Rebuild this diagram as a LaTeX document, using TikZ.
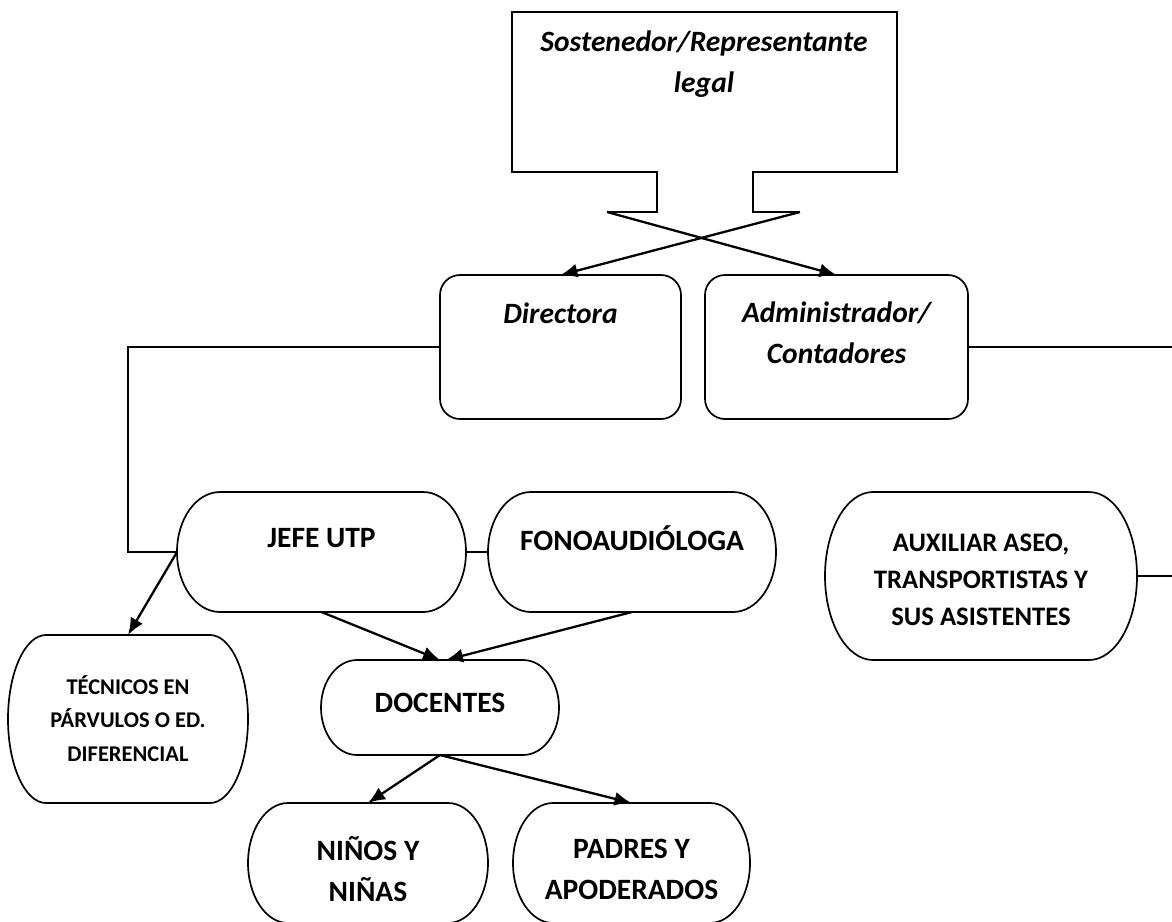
\documentclass[tikz,border=0pt]{standalone}
\usepackage{fontspec}
\setmainfont{Carlito}
\usepackage{tikz}
\usetikzlibrary{arrows.meta}
\tikzset{
    framenode/.style = {
        rectangle,
        rounded corners=20pt,
        draw=black,
        line width=1.7pt,
        inner sep=0pt,
        outer sep=0pt
    },
    pillnode/.style = {
        rectangle,
        inner sep=0pt,
        outer sep=0pt
    },
    pillline/.style = {
        draw=black,
        line width=1.7pt
    },
    labeltext/.style = {
        align=center,
        inner sep=0pt,
        font=\fontsize{29.5}{41}\selectfont\bfseries
    },
    midlabeltext/.style = {
        labeltext,
        font=\fontsize{26.7}{37}\selectfont\bfseries
    },
    smalllabeltext/.style = {
        labeltext,
        font=\fontsize{22.5}{33.5}\selectfont\bfseries
    },
    headtext/.style = {
        labeltext,
        font=\fontsize{29.5}{41}\selectfont\bfseries\itshape
    },
    link/.style = {
        line width=1.7pt
    },
    arrowlink/.style = {
        line width=2.3pt,
        -{Latex[length=17pt,width=14pt]}
    }
}
% outline with half-ellipse ends: node, x radius, y radius
\newcommand{\pilloutline}[3]{%
    \draw[pillline] ([xshift=#2]#1.north west) -- ([xshift=-#2]#1.north east)
        arc[start angle=90, end angle=-90, x radius=#2, y radius=#3]
        -- ([xshift=#2]#1.south west)
        arc[start angle=270, end angle=90, x radius=#2, y radius=#3] -- cycle;
}
\begin{document}
\begin{tikzpicture}[x=1pt, y=-1pt]
    \useasboundingbox (0,0) rectangle (1172,921);

    \coordinate (tabL) at (607,212);
    \coordinate (tabR) at (800,212);
    \draw[link] (tabL) -- (657,212) -- (657,172) -- (512,172) -- (512,12) -- (897,12)
        -- (897,172) -- (753,172) -- (753,212) -- (tabR);
    \node[headtext] (sosttext) at (704,64) {Sostenedor/Representante\\legal};

    \node[framenode, minimum width=241pt, minimum height=144pt] (dir) at (560.5,347) {};
    \node[headtext] (dirtext) at (560.5,313) {Directora};
    \node[framenode, minimum width=263pt, minimum height=144pt] (adm) at (836.5,347) {};
    \node[headtext] (admtext) at (836.5,333) {Administrador/\\Contadores};

    \node[pillnode, minimum width=289pt, minimum height=120pt] (jefe) at (321.5,552) {};
    \pilloutline{jefe}{43pt}{60pt}
    \node[labeltext] (jefetext) at (321.5,538) {JEFE UTP};
    \node[pillnode, minimum width=288pt, minimum height=120pt] (fono) at (632,552) {};
    \pilloutline{fono}{43pt}{60pt}
    \node[labeltext] (fonotext) at (632,538) {FONOAUDIÓLOGA};
    \node[pillnode, minimum width=312pt, minimum height=168pt] (aux) at (981,576) {};
    \pilloutline{aux}{48pt}{84pt}
    \node[midlabeltext] (auxtext) at (981,580) {AUXILIAR ASEO,\\TRANSPORTISTAS Y\\SUS ASISTENTES};

    \node[pillnode, minimum width=240pt, minimum height=168pt] (tec) at (128,719) {};
    \pilloutline{tec}{38pt}{84pt}
    \node[smalllabeltext] (tectext) at (128,718.5) {TÉCNICOS EN\\PÁRVULOS O ED.\\DIFERENCIAL};
    \node[pillnode, minimum width=238pt, minimum height=95pt] (doc) at (440,707.5) {};
    \pilloutline{doc}{36pt}{47.5pt}
    \node[labeltext] (doctext) at (440,703) {DOCENTES};

    \node[pillnode, minimum width=240pt, minimum height=120pt] (nin) at (368,863) {};
    \pilloutline{nin}{40pt}{60pt}
    \node[labeltext] (nintext) at (368,869) {NIÑOS Y\\NIÑAS};
    \node[pillnode, minimum width=237pt, minimum height=120pt] (pad) at (631.5,863) {};
    \pilloutline{pad}{40pt}{60pt}
    \node[labeltext] (padtext) at (631.5,869) {PADRES Y\\APODERADOS};

    \coordinate (bendL) at (128,347);
    \coordinate (edgeA) at (1172,347);
    \coordinate (edgeB) at (1172,576);

    \draw[arrowlink] (tabR) -- (dir.north);
    \draw[arrowlink] (tabL) -- (adm.north);
    \draw[link] (dir.west) -- (bendL) |- (jefe.west);
    \draw[link] (adm.east) -- (edgeA);
    \draw[link] (jefe.east) -- (fono.west);
    \draw[link] (aux.east) -- (edgeB);
    \draw[arrowlink] (jefe.west) -- (tec.north);
    \draw[arrowlink] (jefe.south) -- (doc.north);
    \draw[arrowlink] (fono.south) -- ([xshift=6pt]doc.north);
    \draw[arrowlink] (doc.south) -- (nin.north);
    \draw[arrowlink] (doc.south) -- (pad.north);
\end{tikzpicture}
\end{document}
